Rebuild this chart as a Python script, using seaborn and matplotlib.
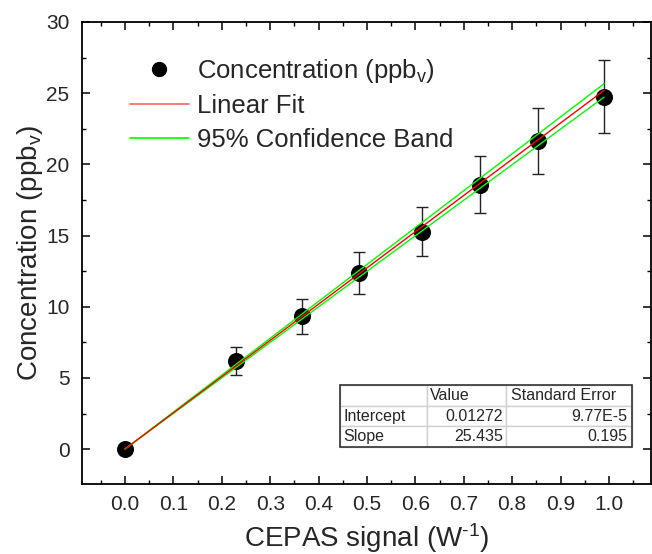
import numpy as np
import pandas as pd
import seaborn as sns
import matplotlib.pyplot as plt
from matplotlib.lines import Line2D
from matplotlib.patches import Rectangle

signal = [0.0, 0.229, 0.365, 0.483, 0.613, 0.733, 0.854, 0.990]
conc = [0.0, 6.19, 9.32, 12.38, 15.28, 18.57, 21.65, 24.76]
conc_err = [0.0, 0.99, 1.22, 1.46, 1.72, 2.02, 2.31, 2.58]

# fit results from the table
fit_params = ['Intercept', 'Slope']
fit_values = [0.01272, 25.435]
fit_errors = [9.77e-5, 0.195]
fit_values_txt = ['0.01272', '25.435']
fit_errors_txt = ['9.77E-5', '0.195']
t95 = 2.447  # t(0.975, df=6)

xticks = [0.0, 0.1, 0.2, 0.3, 0.4, 0.5, 0.6, 0.7, 0.8, 0.9, 1.0]
yticks = [0, 5, 10, 15, 20, 25, 30]

sns.set_theme(style='ticks')
plt.rcParams['font.family'] = ['Liberation Sans', 'DejaVu Sans']
plt.rcParams['mathtext.fontset'] = 'custom'
plt.rcParams['mathtext.rm'] = 'Liberation Sans'
plt.rcParams['mathtext.it'] = 'Liberation Sans'

fig = plt.figure(figsize=(6.52, 5.54), dpi=100)
ax = fig.add_axes([0.1258, 0.1264, 0.8727, 0.8339])

b0, b1 = fit_values
se0, se1 = fit_errors
xs = np.linspace(min(signal), max(signal), 50)
fit = b0 + b1 * xs
half = t95 * np.sqrt(se0 ** 2 + (xs * se1) ** 2)
df_fit = pd.DataFrame({'x': xs, 'fit': fit, 'lo': fit - half, 'hi': fit + half})

ax.errorbar(signal, conc, yerr=conc_err, fmt='none', ecolor='#222222',
            elinewidth=1, capsize=4.5, capthick=1, zorder=2)
sns.scatterplot(x=signal, y=conc, color='black', s=150, edgecolor='black',
                linewidth=0, ax=ax, zorder=3)
sns.lineplot(data=df_fit, x='x', y='lo', color='#00ff00', lw=1, ax=ax, zorder=4)
sns.lineplot(data=df_fit, x='x', y='hi', color='#00ff00', lw=1, ax=ax, zorder=4)
sns.lineplot(data=df_fit, x='x', y='fit', color='#ff0000', lw=1, ax=ax, zorder=5)

ax.set_xlim(-0.089, 1.087)
ax.set_ylim(-2.45, 30)
ax.set_xticks(xticks)
ax.set_xticklabels([f'{v:.1f}' for v in xticks])
ax.set_yticks(yticks)
ax.set_xticks(np.arange(-0.05, 1.09, 0.1), minor=True)
ax.set_yticks(np.arange(2.5, 30, 5), minor=True)
ax.tick_params(which='both', direction='in', top=True, right=True, color='black')
ax.tick_params(which='major', length=6, width=1.1)
ax.tick_params(which='minor', length=3, width=1.0)
ax.tick_params(axis='x', which='major', labelsize=15, pad=8)
ax.tick_params(axis='y', which='major', labelsize=15, pad=9)
for sp in ax.spines.values():
    sp.set_linewidth(1.3)
    sp.set_color('black')

ax.set_xlabel('CEPAS signal (W$^{\\mathrm{\u2010}1}$)', fontsize=20, labelpad=5)
ax.set_ylabel('Concentration (ppb$_{\\mathrm{v}}$)', fontsize=20, labelpad=1)

handles = [Line2D([], [], ls='none', marker='o', color='black', markersize=10),
           Line2D([], [], color='#ff6060', lw=1.2),
           Line2D([], [], color='#00ff00', lw=1.2)]
labels = ['Concentration (ppb$_{\\mathrm{v}}$)', 'Linear Fit', '95% Confidence Band']
ax.legend(handles, labels, loc='upper left', bbox_to_anchor=(0.084, 0.925),
          frameon=False, fontsize=18.5, handlelength=2.3, handletextpad=0.3,
          labelspacing=0.38, borderpad=0, borderaxespad=0)

cells = [['', 'Value', 'Standard Error']]
for p, v, e in zip(fit_params, fit_values_txt, fit_errors_txt):
    cells.append([p, v, e])
tb = [0.4534, 0.0801, 0.5132, 0.134]
tbl = ax.table(cellText=cells, colWidths=[87, 79, 126], cellLoc='left', bbox=tb)
tbl.auto_set_font_size(False)
tbl.set_fontsize(11.5)
tbl.set_zorder(6)
for (r, c), cell in tbl.get_celld().items():
    cell.set_edgecolor('#d0d0d0')
    cell.set_linewidth(1)
    cell.PAD = 0.04
    if r > 0 and c > 0:
        cell.get_text().set_horizontalalignment('right')
ax.add_patch(Rectangle((tb[0], tb[1]), tb[2], tb[3], transform=ax.transAxes,
                       fill=False, edgecolor='#333333', lw=1.2, zorder=7))

fig.savefig('out.png', dpi=100)
